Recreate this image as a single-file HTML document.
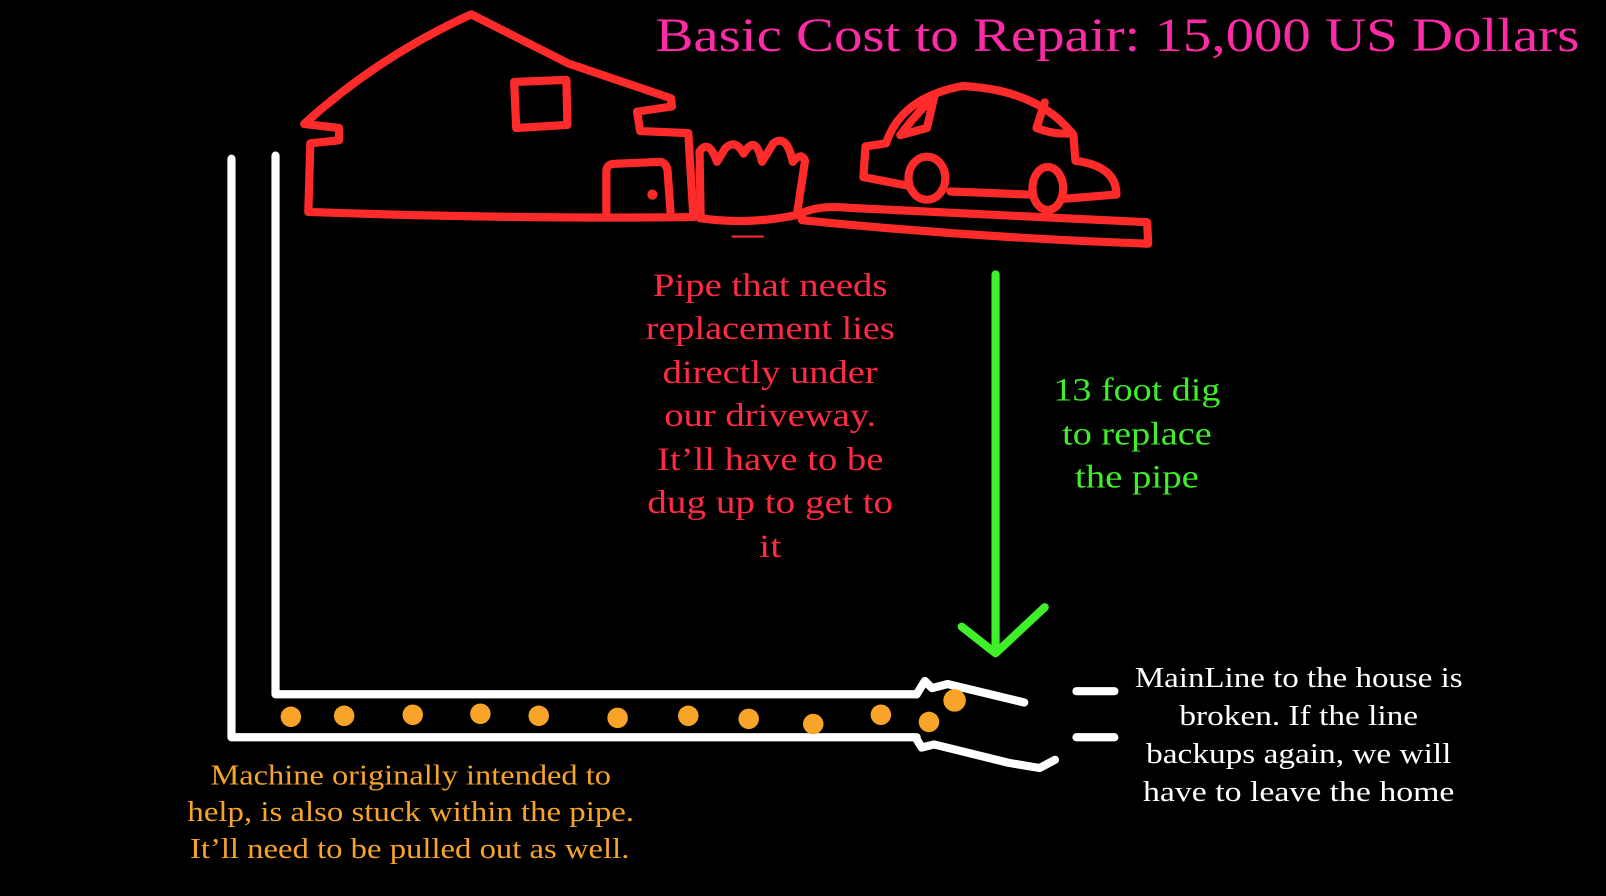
<!DOCTYPE html>
<html><head><meta charset="utf-8"><style>
html,body{margin:0;padding:0;background:#000;width:1606px;height:896px;overflow:hidden}
svg{display:block}
text{font-family:"Liberation Serif",serif;text-anchor:middle}
</style></head><body>
<svg width="1606" height="896" viewBox="0 0 1568 875" preserveAspectRatio="none" xmlns="http://www.w3.org/2000/svg">
<rect width="1568" height="875" fill="#000"/>
<g fill="none" stroke="#ff2a2a" stroke-width="8" stroke-linecap="round" stroke-linejoin="round">
<path d="M301,207 L303,140 L331,137 L331,125 L297,121 Q370,55 460,14 L555,62 L655,96 L656,104 L622,109 L625,128 L672,130 L677,212 Q500,214 301,207 Z"/>
<path d="M592,211 L592,168 Q592,160 600,160 L645,158 Q652,160 652,170 L655,212"/>
<path d="M502,80 L553,78 L554,122 L504,125 Z"/>
<path d="M683,213 Q730,220 778,210 L786,157 Q782,148 774,158 Q768,130 755,140 L744,158 Q738,130 726,150 Q718,135 708,145 L700,158 Q692,135 683,148 L684,210"/>
<path d="M783,208 Q800,200 830,203 L1120,217 L1121,238 Q950,232 783,215 Z"/>
<path d="M843,173 L845,143 L865,140 Q880,95 940,84 Q1015,88 1048,132 L1050,157 Q1090,162 1090,190 L1040,194"/>
<path d="M1005,190 L928,187"/>
<path d="M885,181 L843,173"/>
<ellipse cx="905" cy="174" rx="18" ry="21"/>
<ellipse cx="1023" cy="184" rx="15" ry="21"/>
<path d="M879,132 Q895,110 912,95 L905,125 Z"/>
<path d="M1020,100 L1012,125 Q1030,132 1047,130"/>
<path d="M715,231 L745,231" stroke-width="2"/>
</g>
<circle cx="637" cy="190" r="5" fill="#ff2a2a"/>
<g fill="none" stroke="#fff" stroke-width="8" stroke-linecap="round" stroke-linejoin="round">
<path d="M226,155 L226,720 L895,720"/>
<path d="M269,152 L269,678 L895,678"/>
<path d="M895,678 L903,665 L910,672 L925,668 L1000,686"/>
<path d="M895,722 L900,730 L912,727 L985,745 L1015,750 L1030,742"/>
<path d="M1051,675 L1088,675"/>
<path d="M1051,720 L1088,720"/>
</g>
<g fill="#f7a428">
<circle cx="284" cy="700" r="10"/><circle cx="336" cy="699" r="10"/><circle cx="403" cy="698" r="10"/>
<circle cx="469" cy="697" r="10"/><circle cx="526" cy="699" r="10"/><circle cx="603" cy="701" r="10"/>
<circle cx="672" cy="699" r="10"/><circle cx="731" cy="702" r="10"/><circle cx="794" cy="707" r="10"/>
<circle cx="860" cy="698" r="10"/><circle cx="907" cy="705" r="10"/><circle cx="932" cy="684" r="11"/>
</g>
<g fill="none" stroke="#3fef2a" stroke-width="8" stroke-linecap="round" stroke-linejoin="round">
<path d="M972,268 L972,636"/>
<path d="M939,612 L972,638 L1020,593"/>
</g>
<text x="1091" y="50" font-size="46" fill="#ff2aa6" textLength="902" lengthAdjust="spacingAndGlyphs">Basic Cost to Repair: 15,000 US Dollars</text>
<g font-size="32" fill="#ff2a44">
<text x="752" y="289" textLength="229" lengthAdjust="spacingAndGlyphs">Pipe that needs</text>
<text x="752" y="331" textLength="243" lengthAdjust="spacingAndGlyphs">replacement lies</text>
<text x="752" y="374" textLength="210" lengthAdjust="spacingAndGlyphs">directly under</text>
<text x="752" y="416" textLength="207" lengthAdjust="spacingAndGlyphs">our driveway.</text>
<text x="752" y="459" textLength="221" lengthAdjust="spacingAndGlyphs">It’ll have to be</text>
<text x="752" y="501" textLength="240" lengthAdjust="spacingAndGlyphs">dug up to get to</text>
<text x="752" y="544" textLength="22" lengthAdjust="spacingAndGlyphs">it</text>
</g>
<g font-size="32" fill="#3fef2a">
<text x="1110" y="391" textLength="163" lengthAdjust="spacingAndGlyphs">13 foot dig</text>
<text x="1110" y="434" textLength="146" lengthAdjust="spacingAndGlyphs">to replace</text>
<text x="1110" y="476" textLength="121" lengthAdjust="spacingAndGlyphs">the pipe</text>
</g>
<g font-size="28" fill="#fff">
<text x="1268" y="671" textLength="320" lengthAdjust="spacingAndGlyphs">MainLine to the house is</text>
<text x="1268" y="708" textLength="233" lengthAdjust="spacingAndGlyphs">broken. If the line</text>
<text x="1268" y="745" textLength="298" lengthAdjust="spacingAndGlyphs">backups again, we will</text>
<text x="1268" y="782" textLength="304" lengthAdjust="spacingAndGlyphs">have to leave the home</text>
</g>
<g font-size="28" fill="#f7a428">
<text x="401" y="766" textLength="391" lengthAdjust="spacingAndGlyphs">Machine originally intended to</text>
<text x="401" y="802" textLength="436" lengthAdjust="spacingAndGlyphs">help, is also stuck within the pipe.</text>
<text x="400" y="838" textLength="429" lengthAdjust="spacingAndGlyphs">It’ll need to be pulled out as well.</text>
</g>
</svg>
</body></html>
